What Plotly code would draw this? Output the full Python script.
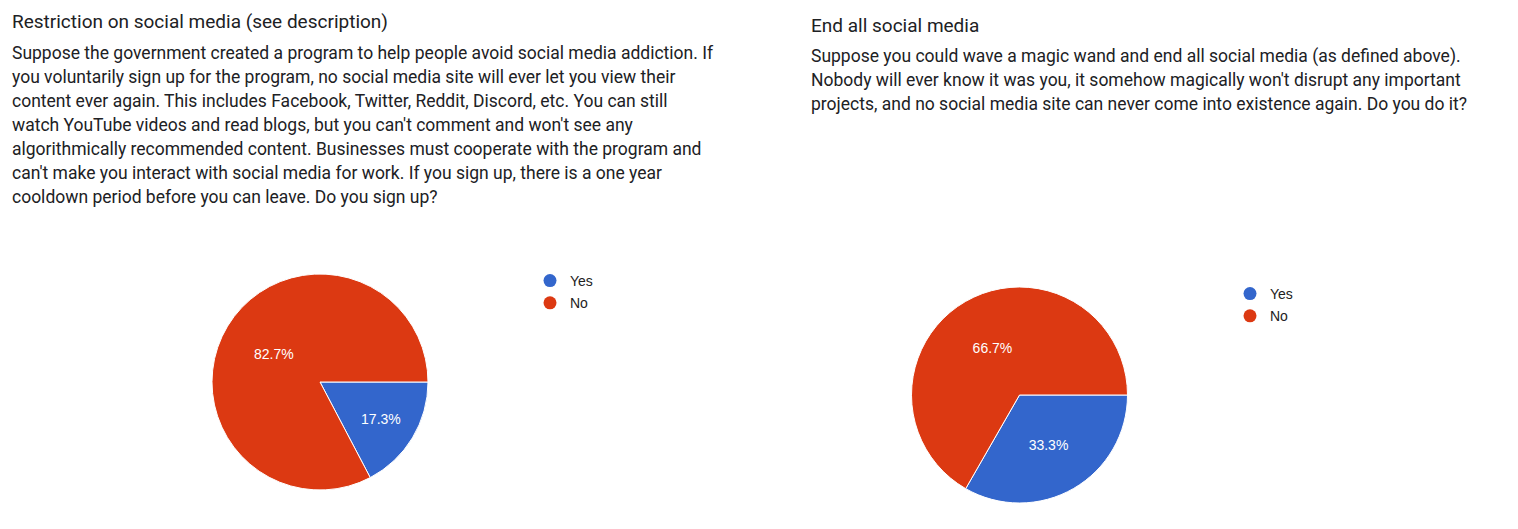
import plotly.graph_objects as go

# answer options and colours (Google Forms defaults)
options = ['Yes', 'No']
colors = ['#3366CC', '#DC3912']

# left chart: restriction on social media
left_title = 'Restriction on social media (see description)'
left_lines = [
    'Suppose the government created a program to help people avoid social media addiction. If',
    'you voluntarily sign up for the program, no social media site will ever let you view their',
    'content ever again. This includes Facebook, Twitter, Reddit, Discord, etc. You can still',
    "watch YouTube videos and read blogs, but you can't comment and won't see any",
    'algorithmically recommended content. Businesses must cooperate with the program and',
    "can't make you interact with social media for work. If you sign up, there is a one year",
    'cooldown period before you can leave. Do you sign up?',
]
left_values = [17.3, 82.7]

# right chart: end all social media
right_title = 'End all social media'
right_lines = [
    'Suppose you could wave a magic wand and end all social media (as defined above).',
    "Nobody will ever know it was you, it somehow magically won't disrupt any important",
    'projects, and no social media site can never come into existence again. Do you do it?',
]
right_values = [33.3, 66.7]

W, H = 1518, 529


def px_x(v):
    return v / W


def px_y(v):
    return 1 - v / H


fig = go.Figure()

pie_style = dict(
    sort=False,
    direction='clockwise',
    rotation=90,
    textinfo='percent',
    texttemplate='%{value:.1f}%',
    textposition='inside',
    insidetextorientation='horizontal',
    textfont=dict(family='Liberation Sans, Arial', size=14, color='white'),
    marker=dict(colors=colors, line=dict(color='white', width=1)),
    showlegend=False,
    hoverinfo='label+percent',
)

fig.add_trace(go.Pie(
    labels=options, values=left_values,
    domain=dict(x=[px_x(212), px_x(428)], y=[px_y(490), px_y(274)]),
    **pie_style
))
fig.add_trace(go.Pie(
    labels=options, values=right_values,
    domain=dict(x=[px_x(911), px_x(1128)], y=[px_y(503), px_y(287)]),
    **pie_style
))

# legends with round markers like the original
for leg in ['legend', 'legend2']:
    for name, col in zip(options, colors):
        fig.add_trace(go.Scatter(
            x=[None], y=[None], mode='markers', name=name,
            marker=dict(color=col, size=13, symbol='circle'),
            legend=leg, legendgroup=leg + name,
        ))

legend_style = dict(
    font=dict(family='Liberation Sans, Arial', size=14, color='#222222'),
    bgcolor='rgba(0,0,0,0)', xanchor='left', yanchor='top',
    tracegroupgap=1, itemwidth=30,
)

annotations = []


def add_text_block(x0, y_title, title, lines):
    annotations.append(dict(
        text=title, x=px_x(x0), y=px_y(y_title), xref='paper', yref='paper',
        xanchor='left', yanchor='middle', showarrow=False,
        font=dict(family='Roboto', size=19, color='#202124'),
    ))
    for i, line in enumerate(lines):
        annotations.append(dict(
            text=line, x=px_x(x0), y=px_y(y_title + 31 + 24 * i),
            xref='paper', yref='paper', xanchor='left', yanchor='middle',
            showarrow=False,
            font=dict(family='Roboto', size=17.5, color='#202124'),
        ))


add_text_block(10, 22, left_title, left_lines)
add_text_block(809, 25, right_title, right_lines)

fig.update_layout(
    width=W, height=H,
    margin=dict(l=0, r=0, t=0, b=0),
    paper_bgcolor='white', plot_bgcolor='white',
    xaxis=dict(visible=False), yaxis=dict(visible=False),
    legend=dict(x=px_x(530), y=px_y(265), **legend_style),
    legend2=dict(x=px_x(1230), y=px_y(278), **legend_style),
    annotations=annotations,
)

# drop the default page margin so the figure sits at the window corner
fig.write_html('out.html', config={'displayModeBar': False},
               post_script="document.body.style.margin='0';")
